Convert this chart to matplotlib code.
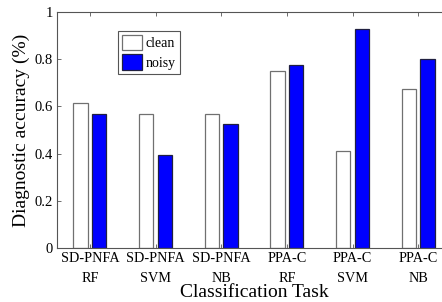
import matplotlib
matplotlib.use("Agg")
import matplotlib.pyplot as plt
import numpy as np

plt.rcParams['font.family'] = ['Liberation Serif', 'DejaVu Serif']
plt.rcParams['mathtext.fontset'] = 'stix'

tasks = ["SD-PNFA\nRF", "SD-PNFA\nSVM", "SD-PNFA\nNB", "PPA-C\nRF", "PPA-C\nSVM", "PPA-C\nNB"]
clean = [0.614, 0.568, 0.568, 0.750, 0.412, 0.672]
noisy = [0.568, 0.393, 0.525, 0.774, 0.928, 0.800]
yticks = [0, 0.2, 0.4, 0.6, 0.8, 1]
ytick_labels = ["0", "0.2", "0.4", "0.6", "0.8", "1"]

fig = plt.figure(figsize=(4.42, 3.02), dpi=100)
ax = fig.add_axes([57/442, 54/302, 394/442, 236/302])

x = np.arange(1, len(tasks) + 1)
w = 0.22
off = 0.142
ax.bar(x - off, clean, w, color='white', edgecolor='#707070', linewidth=0.9, label='clean')
ax.bar(x + off, noisy, w, color='#0000ff', edgecolor='#202040', linewidth=0.9, label='noisy')

ax.set_xlim(0.5, 6.5)
ax.set_ylim(0, 1)
ax.set_xticks(x)
ax.set_xticklabels(tasks, fontsize=10.3, linespacing=1.7)
ax.set_yticks(yticks)
ax.set_yticklabels(ytick_labels, fontsize=10.5)
ax.tick_params(direction='in', top=True, right=True, length=3, width=0.6, color='#555555', pad=3)
for s in ax.spines.values():
    s.set_color('#555555')
    s.set_linewidth(0.8)

ax.set_xlabel("Classification Task", fontsize=14, labelpad=-1)
ax.set_ylabel("Diagnostic accuracy (%)", fontsize=14, labelpad=3)

leg = ax.legend(loc='upper left', bbox_to_anchor=(0.155, 0.92), fontsize=10,
                fancybox=False, framealpha=1, edgecolor='#555555',
                handlelength=1.45, handleheight=1.3, borderpad=0.3,
                labelspacing=0.3, handletextpad=0.25, borderaxespad=0)
leg.get_frame().set_linewidth(0.8)

fig.savefig("out.png", dpi=100)
